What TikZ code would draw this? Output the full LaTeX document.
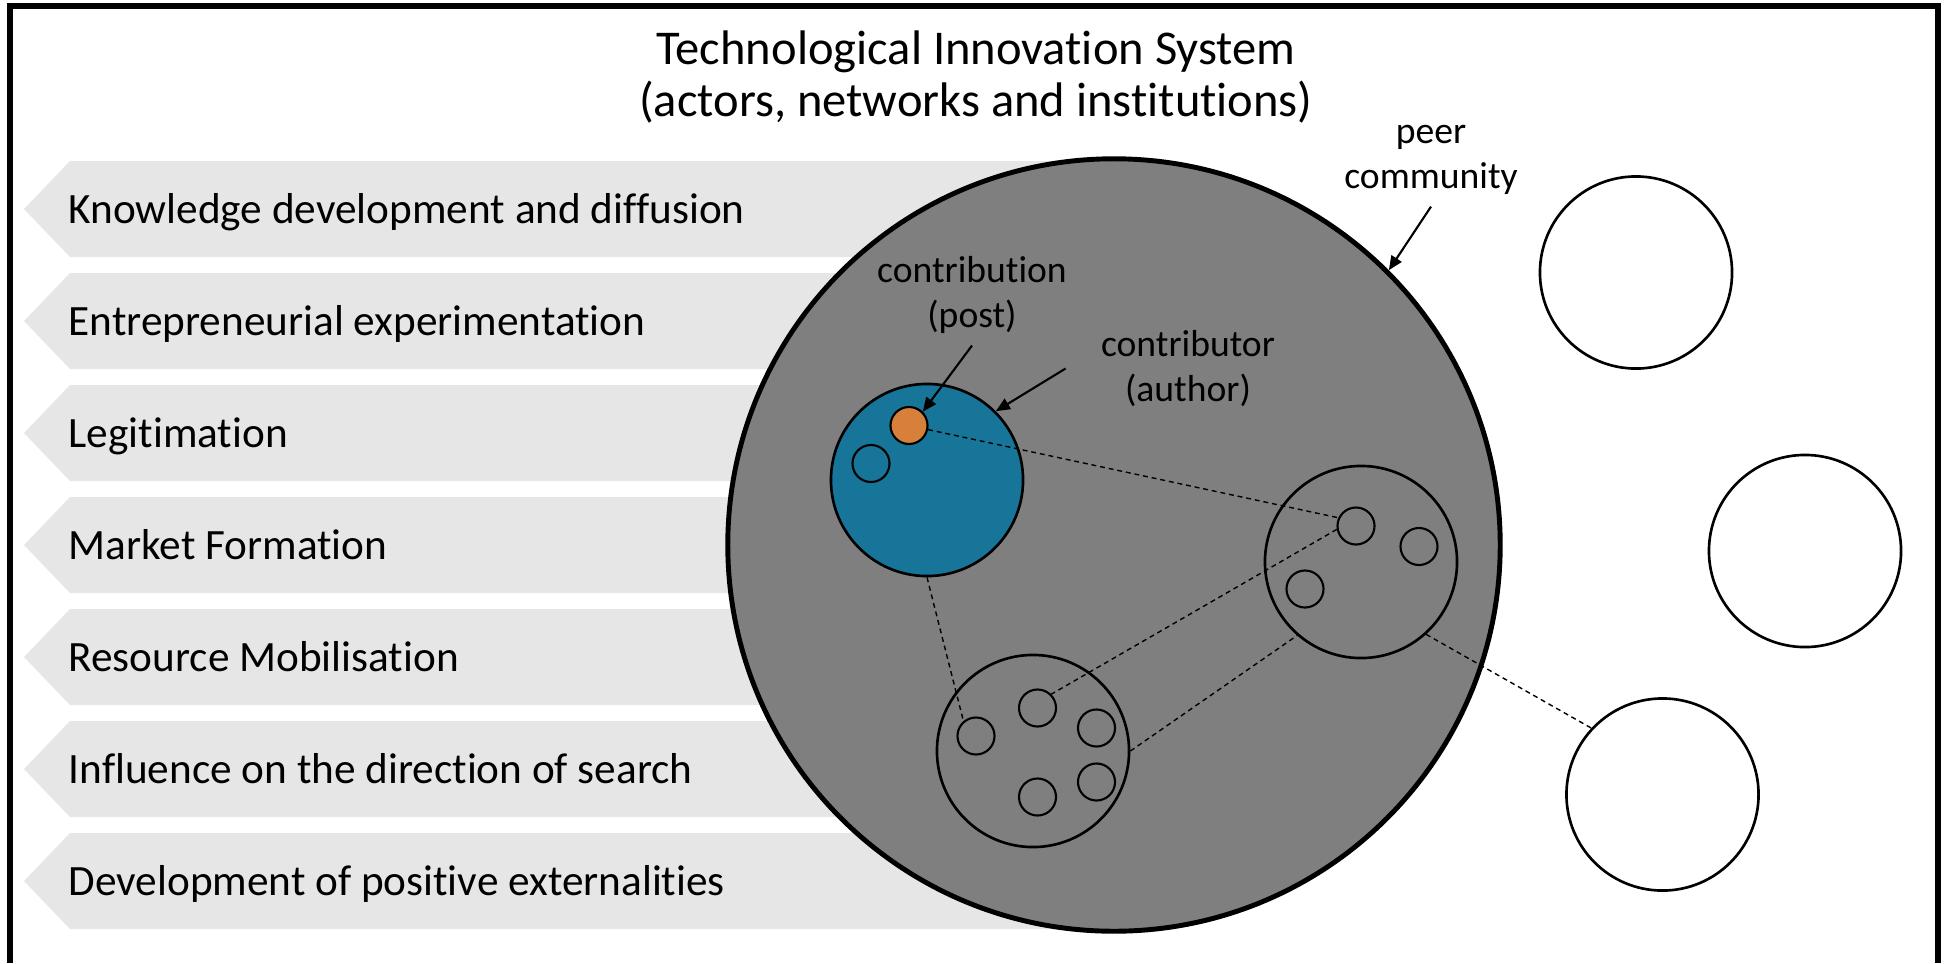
\documentclass[tikz,border=0pt]{standalone}
\usepackage{fontspec}
\setmainfont{Carlito}[Ligatures=NoCommon]
\usetikzlibrary{arrows.meta}
\definecolor{bannergray}{RGB}{231,230,230}
\definecolor{peergray}{RGB}{127,127,127}
\definecolor{authorblue}{RGB}{23,117,153}
\definecolor{postorange}{RGB}{214,128,60}

\begin{document}
\begin{tikzpicture}[x=0.01cm, y=-0.01cm,
	ring/.style={circle, draw, inner sep=0pt, minimum size=1.92cm, line width=0.75pt},
	dot/.style={circle, draw, inner sep=0pt, minimum size=0.37cm, line width=0.6pt},
	link/.style={dash pattern=on 1.4pt off 1.1pt, line width=0.4pt},
	pointer/.style={-{Triangle[length=4pt,width=3.4pt]}, line width=0.6pt},
	lbl/.style={align=center, font=\fontsize{10.7}{12.8}\selectfont}]

\useasboundingbox (0,0) rectangle (1945,963);

% frame
\draw[line width=1.7pt] (10,963) -- (10,6) -- (1938,6) -- (1938,963);
% title
\node[align=center, font=\fontsize{13.8}{14.8}\selectfont] (title) at (976,77)
	{Technological Innovation System\\(actors, networks and institutions)};

% functions
\foreach \txt [count=\i from 0] in {Knowledge development and diffusion,
		Entrepreneurial experimentation, Legitimation, Market Formation,
		Resource Mobilisation, Influence on the direction of search,
		Development of positive externalities} {
	\fill[bannergray] (70,{161+112*\i}) -- (24,{209+112*\i}) -- (70,{257+112*\i})
		-- (1105,{257+112*\i}) -- (1105,{161+112*\i}) -- cycle;
	\node[anchor=base west, inner sep=0pt, font=\fontsize{12.3}{14}\selectfont]
		(fn\i) at (68,{223+112*\i}) {\txt};
}

% peer community
\node[circle, draw, fill=peergray, line width=1.4pt, inner sep=0pt,
	minimum size=7.72cm] (peers) at (1114,545) {};

% contributor
\node[ring, fill=authorblue] (author) at (927,480) {};
\node[dot, fill=postorange] (post) at (909,425.5) {};
\node[dot] (post2) at (871,463.5) {};

% other contributors
\node[ring] (groupa) at (1361,562) {};
\node[dot] (a1) at (1356,526) {};
\node[dot] (a2) at (1419,546.5) {};
\node[dot] (a3) at (1305,589) {};

\node[ring] (groupb) at (1033,751) {};
\node[dot] (b1) at (976,736) {};
\node[dot] (b2) at (1037.5,708) {};
\node[dot] (b3) at (1096.5,728) {};
\node[dot] (b4) at (1096.5,782) {};
\node[dot] (b5) at (1037.5,797) {};

% outside
\node[ring, fill=white] (outa) at (1636,272.5) {};
\node[ring, fill=white] (outb) at (1805,551) {};
\node[ring, fill=white] (outc) at (1662.5,794.5) {};

% links
\draw[link] (post) -- (a1.155);
\draw[link] (a1.190) -- (b2.45);
\draw[link] (author.south) -- (b1.130);
\draw[link] (groupb.east) -- (groupa.229);
\draw[link] (groupa.-48) -- (outc.137);

% labels
\node[lbl] (peerlbl) at (1431,159.5) {peer\\community};
\node[lbl] (postlbl) at (972,294.5) {contribution\\(post)};
\node[lbl] (authorlbl) at (1188,368.5) {contributor\\(author)};
\draw[pointer] (peerlbl.south) -- (peers.45);
\draw[pointer] (postlbl.south) -- (post.45);
\draw[pointer] ([xshift=-0.23cm]authorlbl.west) -- (author.45);

\end{tikzpicture}
\end{document}
